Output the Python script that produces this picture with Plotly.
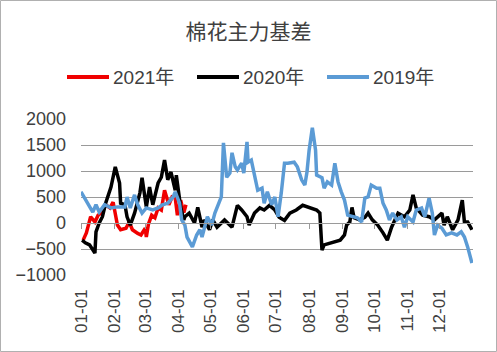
import plotly.graph_objects as go

# ---- data (month-day, basis value) ----
red_dates = ["01-03","01-06","01-10","01-14","01-17","01-21","01-24","01-28","01-31","02-02",
             "02-04","02-07","02-12","02-15","02-18","02-23","02-26","03-01","03-02","03-04",
             "03-07","03-10","03-13","03-16","03-19","03-23","03-26","03-29","03-31","04-03",
             "04-06","04-08"]
red_vals = [-330,-190,120,20,150,210,350,290,400,200,
            -40,-130,-100,20,-130,-200,-230,-100,-270,-20,
            150,100,290,250,630,350,500,480,150,440,
            200,350]

black_dates = ["01-02","01-05","01-09","01-14","01-15","01-18","01-21","01-24","01-29","02-02",
               "02-06","02-07","02-11","02-13","02-16","02-20","02-25","02-27","03-02","03-05",
               "03-08","03-13","03-16","03-19","03-22","03-25","03-29","03-30","04-03","04-06",
               "04-07","04-11","04-16","04-19","04-23","04-25","04-30","05-03","05-07","05-14",
               "05-21","05-26","05-30","06-04","06-06","06-11","06-16","06-20","06-25","06-30",
               "07-04","07-09","07-14","07-20","07-26","08-01","08-04","08-08","08-11","08-13",
               "08-15","08-20","08-25","08-30","09-03","09-05","09-08","09-10","09-12","09-17",
               "09-22","09-25","09-29","10-04","10-09","10-13","10-17","10-23","10-29","11-03",
               "11-06","11-09","11-15","11-21","11-26","12-03","12-05","12-08","12-13","12-18",
               "12-22","12-24","12-27","12-31"]
black_vals = [-330,-380,-420,-580,-170,0,120,380,690,1080,
              770,380,350,120,-40,190,580,870,310,690,
              350,770,880,1210,830,980,630,920,310,60,
              120,190,0,300,-80,60,-130,60,-80,60,
              -80,340,250,120,-40,190,290,250,340,250,
              110,50,190,250,340,300,290,250,190,-520,
              -420,-390,-370,-330,-230,-40,20,300,100,60,
              110,190,60,-40,-190,-330,-80,190,120,250,
              540,290,150,120,60,190,-40,120,-130,60,
              440,20,20,-130]

blue_dates = ["01-01","01-07","01-12","01-15","01-18","01-23","01-29","02-04","02-11","02-13",
              "02-16","02-20","02-23","02-27","03-02","03-08","03-13","03-17","03-22","03-27",
              "03-29","04-02","04-04","04-07","04-09","04-14","04-18","04-21","04-23","04-28",
              "05-02","05-05","05-07","05-11","05-13","05-16","05-19","05-21","05-24","05-26",
              "05-30","06-01","06-04","06-05","06-08","06-11","06-14","06-18","06-20","06-23",
              "06-27","06-30","07-03","07-06","07-09","07-12","07-18","07-21","07-25","07-28",
              "07-30","08-01","08-04","08-07","08-08","08-13","08-15","08-18","08-22","08-25",
              "08-28","08-31","09-03","09-06","09-11","09-15","09-19","09-22","09-25","09-28",
              "10-03","10-06","10-09","10-12","10-15","10-18","10-22","10-26","10-29","11-01",
              "11-06","11-09","11-14","11-17","11-21","11-24","11-26","11-29","12-03","12-07",
              "12-12","12-17","12-21","12-24","12-27","12-31"]
blue_vals = [600,380,210,350,210,350,290,310,310,500,
             290,540,350,190,290,250,290,350,380,500,
             600,380,60,-40,-270,-460,-230,-130,-270,120,
             -40,190,310,500,1540,880,960,1350,1080,1020,
             1150,960,1560,1170,1210,880,630,670,380,600,
             350,500,120,580,1150,1150,1170,1080,830,730,
             980,1400,1830,1400,920,870,670,790,730,1150,
             790,600,440,150,120,100,20,480,500,730,
             670,670,380,250,60,190,60,120,-80,120,
             20,250,290,120,480,190,-230,-40,-100,-230,
             -190,-230,-170,-270,-460,-770]

series_names = ["2021年", "2020年", "2019年"]
series_colors = ["#f00000", "#000000", "#5b9bd5"]
month_ticks = ["01-01","02-01","03-01","04-01","05-01","06-01",
               "07-01","08-01","09-01","10-01","11-01","12-01"]
y_ticks = [-1000, -500, 0, 500, 1000, 1500, 2000]

BASE_YEAR = "2020-"

def full(ds):
    return [BASE_YEAR + d for d in ds]

fig = go.Figure()
for name, color, ds, vs in zip(series_names, series_colors,
                               [red_dates, black_dates, blue_dates],
                               [red_vals, black_vals, blue_vals]):
    fig.add_trace(go.Scatter(x=full(ds), y=vs, mode="lines", name=name,
                             line=dict(color=color, width=3.5), hoverinfo="skip",
                             showlegend=False))

# invisible trace to carry the zero-line axis
fig.add_trace(go.Scatter(x=full(month_ticks), y=[0]*len(month_ticks), xaxis="x2",
                         mode="lines", line=dict(width=0), showlegend=False,
                         hoverinfo="skip", opacity=0))

L, R, T, B = 81, 24, 119, 77
W, H = 497, 352
pw, ph = W - L - R, H - T - B
grid = "#9a9a9a"
txt = "#404040"

def px_x(p):
    return (p - L) / pw

def px_y(p):
    return 1 + (T - p) / ph

# manual legend (line swatch + text), items spaced like the reference
shapes = [dict(type="rect", xref="paper", yref="paper",
               x0=-(L - 0.5) / pw, x1=1 + (R - 0.5) / pw,
               y0=-(B - 0.5) / ph, y1=1 + (T - 0.5) / ph,
               line=dict(color="#b0b0b0", width=1), layer="below")]
annotations = []
leg_y = 77
for i, (name, color) in enumerate(zip(series_names, series_colors)):
    x0 = 67 + 130 * i
    shapes.append(dict(type="line", xref="paper", yref="paper",
                       x0=px_x(x0), x1=px_x(x0 + 42), y0=px_y(leg_y), y1=px_y(leg_y),
                       line=dict(color=color, width=4)))
    annotations.append(dict(text=name, xref="paper", yref="paper", showarrow=False,
                            x=px_x(x0 + 44), y=px_y(leg_y), xanchor="left", yanchor="middle",
                            font=dict(family="Liberation Sans, Noto Sans CJK SC", size=19,
                                      color=txt)))

fig.update_layout(
    width=W, height=H,
    margin=dict(l=L, r=R, t=T, b=B, pad=0),
    paper_bgcolor="white", plot_bgcolor="white",
    showlegend=False,
    font=dict(family="Liberation Sans, Arial, sans-serif", color=txt),
    title=dict(text="棉花主力基差", x=0.5, xanchor="center", y=1 - 32 / H, yanchor="middle",
               font=dict(family="Noto Sans CJK SC", size=21, color=txt)),
    xaxis=dict(type="date", range=["2020-01-01", "2021-01-01"],
               tickvals=full(month_ticks), ticktext=month_ticks, tickangle=-90,
               tickfont=dict(size=17, color=txt), showgrid=False, zeroline=False,
               showline=False, ticks="", ticklabelstandoff=10),
    xaxis2=dict(type="date", range=["2020-01-01", "2021-01-01"], overlaying="x",
                anchor="free", position=1 / 3, tickvals=full(month_ticks),
                showticklabels=False, ticks="outside", ticklen=5, tickcolor=grid,
                showline=True, linecolor=grid, linewidth=1, showgrid=False, zeroline=False),
    yaxis=dict(range=[-1000, 2000], tickvals=y_ticks, showgrid=True, gridcolor=grid,
               gridwidth=1, zeroline=False, showline=False, ticks="",
               tickfont=dict(size=18, color=txt), ticklabelstandoff=14),
    shapes=shapes,
    annotations=annotations,
)

fig.write_html("out.html")
